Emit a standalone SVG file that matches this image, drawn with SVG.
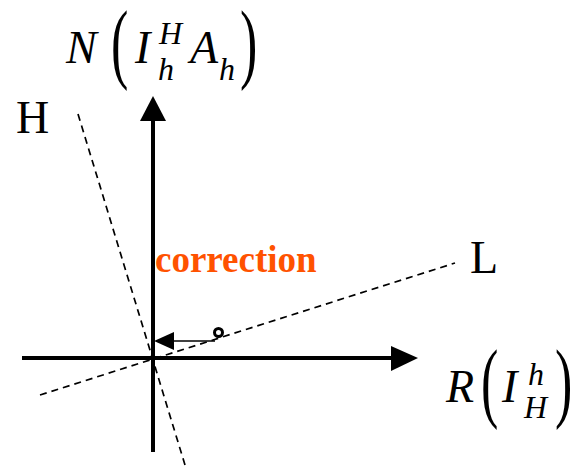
<svg xmlns="http://www.w3.org/2000/svg" width="578" height="467" viewBox="0 0 578 467">
<style>
.m{font-family:"Liberation Serif","Times New Roman",serif;font-style:italic;fill:#000}
.big{font-size:46px}
.small{font-size:32px}
.par{font-family:"Liberation Serif","Times New Roman",serif;font-size:80px;fill:#000}
.lbl{font-family:"Liberation Serif","Times New Roman",serif;font-size:46px;fill:#000}
.dash{stroke:#000;stroke-width:1.7;stroke-dasharray:7 5;fill:none}
.axis{stroke:#000;stroke-width:4;fill:none}
</style>
<rect width="578" height="467" fill="#fff"/>
<g id="connectors">
<line class="dash" x1="78" y1="114" x2="185" y2="465"/>
<line class="dash" x1="40" y1="395" x2="455" y2="263"/>
<line class="axis" x1="153" y1="118" x2="153" y2="452"/>
<polygon points="153,96 140,121 166,121" fill="#000"/>
<line class="axis" x1="22" y1="358" x2="393" y2="358"/>
<polygon points="418,358 391,346 391,371" fill="#000"/>
<line x1="215" y1="341" x2="172" y2="341" stroke="#000" stroke-width="1.5"/>
<polygon points="154,341 174,332 174,350" fill="#000"/>
<circle cx="218.5" cy="332.5" r="4" fill="none" stroke="#000" stroke-width="3"/>
</g>
<g id="yaxis-label">
<text class="m big" x="66" y="63">N</text>
<text class="par" transform="translate(111,72) scale(0.65,1.1)">(</text>
<text class="m big" x="135" y="63">I</text>
<text class="m small" x="159" y="44">H</text>
<text class="m small" x="158" y="80">h</text>
<text class="m big" x="190" y="63">A</text>
<text class="m small" x="219" y="80">h</text>
<text class="par" transform="translate(240,72) scale(0.65,1.1)">)</text>
</g>
<g id="xaxis-label">
<text class="m big" x="446" y="402">R</text>
<text class="par" transform="translate(481,411) scale(0.65,1.1)">(</text>
<text class="m big" x="502" y="402">I</text>
<text class="m small" x="528" y="385">h</text>
<text class="m small" x="524" y="418">H</text>
<text class="par" transform="translate(555,411) scale(0.65,1.1)">)</text>
</g>
<g id="H">
<text class="lbl" x="16" y="133">H</text>
</g>
<g id="L">
<text class="lbl" x="470" y="273">L</text>
</g>
<g id="correction">
<text x="155" y="272" font-family="Liberation Serif,'Times New Roman',serif" font-weight="bold" font-size="37" fill="#FF5200">correction</text>
</g>
</svg>
